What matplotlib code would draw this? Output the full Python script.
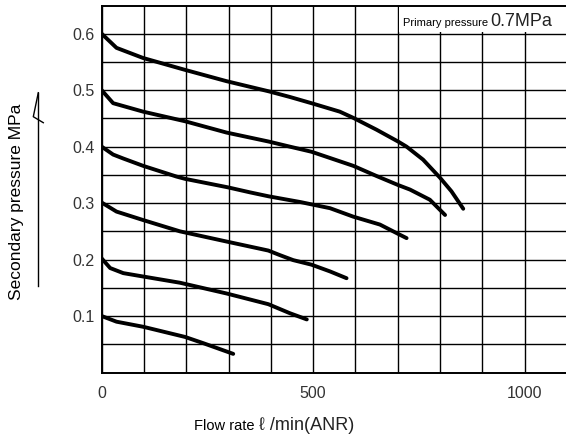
"""Secondary pressure vs flow rate characteristic (primary pressure 0.7 MPa)."""

import matplotlib

matplotlib.use("Agg")
import matplotlib.pyplot as plt
from matplotlib.lines import Line2D
from matplotlib.patches import Rectangle
import numpy as np

# set pressures and the curves (flow in l/min, pressure in MPa)
SET_PRESSURES = [0.6, 0.5, 0.4, 0.3, 0.2, 0.1]
FLOW = {
    0.6: [0, 35, 98, 197, 295, 395, 445, 496, 563, 595, 650, 701, 721, 760, 800, 827, 855],
    0.5: [0, 27, 98, 197, 295, 395, 445, 496, 595, 650, 701, 729, 776, 812],
    0.4: [0, 27, 51, 98, 177, 197, 298, 351, 395, 469, 540, 595, 658, 705, 721],
    0.3: [0, 35, 98, 185, 295, 394, 421, 453, 496, 540, 579],
    0.2: [0, 20, 51, 98, 185, 295, 394, 445, 485],
    0.1: [0, 35, 98, 197, 240, 311],
}
PRESSURE = {
    0.6: [0.600, 0.575, 0.557, 0.536, 0.516, 0.498, 0.488, 0.477, 0.462, 0.451, 0.430,
          0.409, 0.400, 0.377, 0.345, 0.321, 0.290],
    0.5: [0.500, 0.477, 0.462, 0.445, 0.425, 0.409, 0.400, 0.391, 0.366, 0.348, 0.332,
          0.324, 0.306, 0.279],
    0.4: [0.400, 0.386, 0.379, 0.366, 0.347, 0.343, 0.328, 0.319, 0.312, 0.302, 0.291,
          0.276, 0.262, 0.244, 0.238],
    0.3: [0.301, 0.285, 0.270, 0.250, 0.232, 0.216, 0.208, 0.199, 0.191, 0.179, 0.167],
    0.2: [0.202, 0.185, 0.176, 0.170, 0.159, 0.140, 0.121, 0.105, 0.094],
    0.1: [0.100, 0.090, 0.081, 0.063, 0.052, 0.033],
}

X_TICKS = np.arange(0, 1100, 100)
X_LABELS = ["0", "", "", "", "", "500", "", "", "", "", "1000"]
Y_TICKS = np.arange(0, 0.65, 0.05)
Y_LABELS = ["", "", "0.1", "", "0.2", "", "0.3", "", "0.4", "", "0.5", "", "0.6"]

SANS = ["Liberation Sans", "DejaVu Sans"]

W, H = 566, 438
fig = plt.figure(figsize=(W / 100, H / 100), dpi=100)
ax = fig.add_axes([101.7 / W, 1 - 372.5 / H, 1 - 101.7 / W, (372.5 - 5.5) / H])

ax.set_xlim(0, 1098)
ax.set_ylim(0, 0.65)
ax.set_xticks(X_TICKS)
ax.set_xticklabels(X_LABELS, family=SANS, fontsize=11.5, color="#333333")
ax.set_yticks(Y_TICKS)
ax.set_yticklabels(Y_LABELS, family=SANS, fontsize=11.5, color="#333333")
ax.tick_params(length=0, pad=5)
ax.tick_params(axis="x", pad=10)

ax.set_axisbelow(True)
ax.grid(True, color="black", linewidth=1.0)
for side in ["left", "bottom", "top"]:
    ax.spines[side].set_linewidth(1.4)
ax.spines["right"].set_visible(False)

for p in SET_PRESSURES:
    ax.plot(FLOW[p], PRESSURE[p], color="black", linewidth=2.8,
            solid_capstyle="round", solid_joinstyle="round", zorder=3)

# white panel behind the primary pressure note
ax.add_patch(Rectangle((703, 0.603), 400, 0.06, facecolor="white",
                       edgecolor="none", zorder=1))
fig.text(403 / W, 1 - 23 / H, "Primary pressure", family=SANS, fontsize=8,
         va="center", ha="left")
fig.text(490 / W, 1 - 22 / H, "0.7MPa", family=SANS, fontsize=13,
         va="center", ha="left", color="#222222")

# axis titles
fig.text(17 / W, 1 - 202 / H, "Secondary pressure MPa", family=SANS, fontsize=12.5,
         rotation=90, va="center", ha="center")
fig.text(254 / W, 1 - 426 / H, "Flow rate", family=SANS, fontsize=10.5,
         va="center", ha="right")
fig.text(259 / W, 1 - 425 / H, "ℓ /min(ANR)", family=SANS, fontsize=13,
         va="center", ha="left", color="#222222")


# hand-drawn style arrow next to the y title
def px(x, y):
    return x / W, 1 - y / H


shaft = [px(38.3, 92.7), px(38.3, 286)]
head = [px(38.3, 92.7), px(33.3, 116.7), px(43.3, 122.7)]
for pts in (shaft, head):
    xs, ys = zip(*pts)
    fig.add_artist(Line2D(xs, ys, color="black", linewidth=1.0))

fig.savefig("out.png", dpi=100)
